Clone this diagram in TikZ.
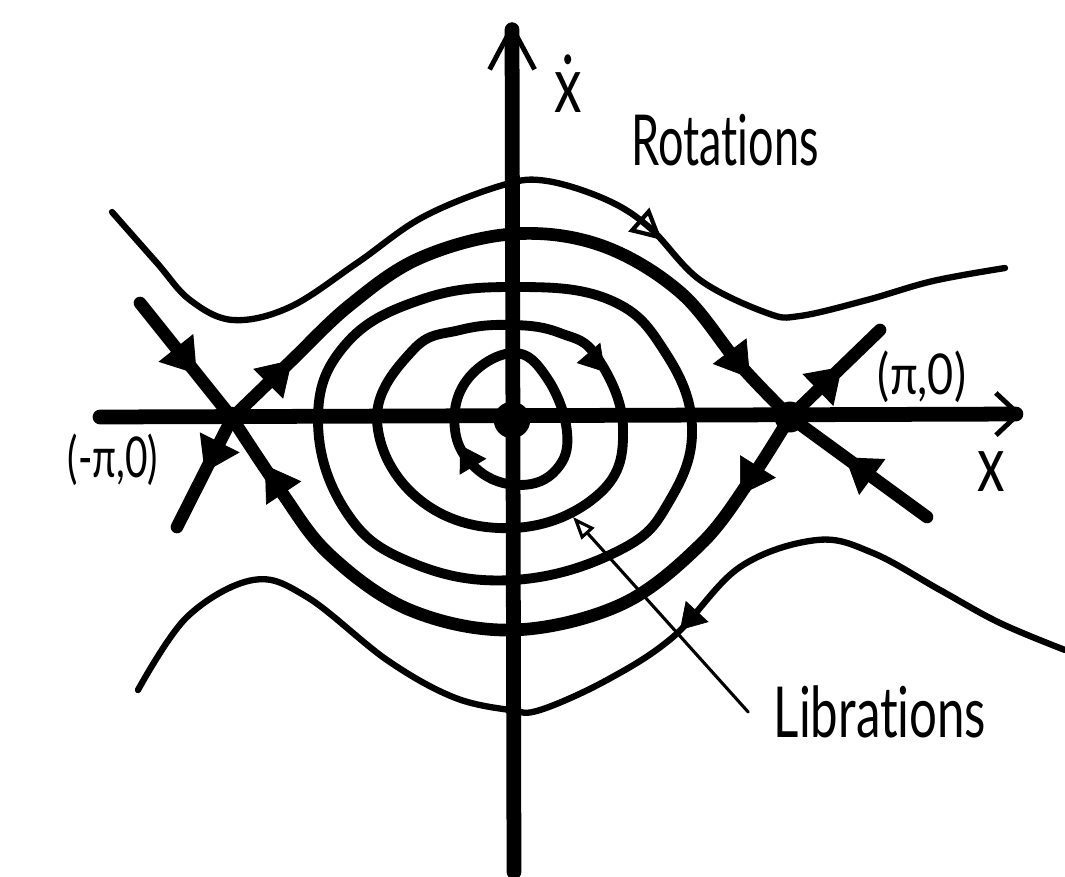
\documentclass[tikz,border=0pt]{standalone}
\usepackage{fontspec}
\setmainfont{Lato}[Ligatures=NoCommon]
\usepackage{graphicx}
\usetikzlibrary{arrows.meta, decorations.markings}
\newcommand{\hand}[2][0.65]{\scalebox{#1}[1]{#2}}

\begin{document}
\begin{tikzpicture}[x=0.025cm, y=-0.025cm, line cap=round, line join=round]
\tikzset{
    axis/.style={line width=10.5pt},
    sepx/.style={line width=9pt},
    orbit/.style={line width=7pt},
    rotor/.style={line width=4.5pt},
    pointer/.style={line width=2.2pt},
    lbl/.style={inner sep=0pt, font=\fontsize{50}{50}\selectfont},
    flowat/.style={postaction={decorate, decoration={markings,
        mark=at position #1 with {\arrow{Triangle[length=24pt, width=30pt]}}}}},
    bighead/.style={line width=0.5pt, -{Triangle[length=24pt, width=30pt]}},
    smallhead/.style={line width=0.5pt, -{Triangle[length=18pt, width=22pt]}},
    openhead/.style={line width=0.5pt, -{Triangle[open, length=22pt, width=22pt, line width=3pt]}}
}
\useasboundingbox (0,0) rectangle (1065,876);

% equilibria
\coordinate (O) at (512,420);
\coordinate (SL) at (232,418);
\coordinate (SR) at (790,417);

% axes
\draw[axis, -{Straight Barb[length=16pt, width=30pt, line width=3.5pt]}] (100,417) -- (1022,414);
\draw[axis, -{Straight Barb[length=30pt, width=32pt, line width=3.5pt]}] (514,872) -- (512,22);

% separatrices
\draw[sepx, flowat=0.5] (SL) -- (177,527);
\draw[sepx, flowat=0.62] (140,303) -- (SL);
\draw[sepx] plot[smooth, tension=0.6] coordinates
    {(SL) (290,362) (350,305) (420,258) (512,234) (600,245) (680,292) (740,365) (SR)};
\draw[sepx, flowat=0.6] (927,517) -- (SR);
\draw[sepx, flowat=0.58] (SR) -- (880,330);
\draw[sepx] plot[smooth, tension=0.6] coordinates
    {(SR) (750,480) (700,545) (620,605) (512,630) (410,610) (330,555) (280,490) (SL)};
\draw[bighead] (262,390) -- (292,360);
\draw[bighead] (725,345) -- (750,378);
\draw[bighead] (762,460) -- (740,495);
\draw[bighead] (285,495) -- (265,465);

\fill (SL) circle[radius=8pt];
\fill (SR) circle[radius=11pt];
\fill (O) circle[radius=13pt];

% librations
\draw[orbit] plot[smooth cycle, tension=0.7] coordinates
    {(513,353) (547,378) (567,432) (556,470) (520,485) (478,470) (455,430) (467,380)};
\draw[orbit] plot[smooth cycle, tension=0.7] coordinates
    {(513,325) (560,333) (597,357) (623,427) (600,493) (513,528) (420,500) (377,420) (413,350) (460,330)};
\draw[orbit] plot[smooth cycle, tension=0.7] coordinates
    {(513,287) (610,300) (665,352) (692,427) (670,500) (620,550) (513,580) (410,562) (345,510) (318,420) (345,345) (420,300)};
\draw[smallhead] (475,470) -- (460,445);
\draw[smallhead] (580,343) -- (605,372);

% rotations
\draw[rotor] plot[smooth, tension=0.6] coordinates
    {(112,212) (157,263) (190,300) (233,320) (290,307) (357,263) (423,217) (503,185) (547,181)
     (607,200) (650,228) (700,280) (767,313) (800,316) (867,300) (933,281) (1005,268)};
\draw[rotor] plot[smooth, tension=0.6] coordinates
    {(1065,650) (1000,623) (940,590) (873,553) (817,540) (740,567) (673,637) (607,680) (540,710)
     (510,710) (453,697) (387,660) (307,597) (253,580) (187,617) (138,690)};
\draw[openhead] (628,210) -- (662,240);
\draw[smallhead] (705,603) -- (680,630);

% labels
\node[lbl, font=\fontsize{56}{56}\selectfont] (xdot) at (568,84) {\hand[0.7]{\.{x}}};
\node[lbl, font=\fontsize{56}{56}\selectfont] (xlbl) at (991,472) {\hand[0.7]{x}};
\node[lbl, font=\fontsize{40}{40}\selectfont] (spi) at (922,377) {\hand[0.8]{(π,0)}};
\node[lbl, font=\fontsize{40}{40}\selectfont] (smpi) at (113,460) {\hand[0.69]{(-π,0)}};
\node[lbl] (rot) at (725,140) {\hand[0.64]{Rotations}};
\node[lbl] (lib) at (880,712) {\hand[0.7]{Librations}};

\coordinate (libtip) at (573,517);
\draw[pointer, -{Triangle[open, length=16pt, width=12pt, line width=2.2pt]}] ([xshift=-18pt]lib.west) -- (libtip);
\end{tikzpicture}
\end{document}
